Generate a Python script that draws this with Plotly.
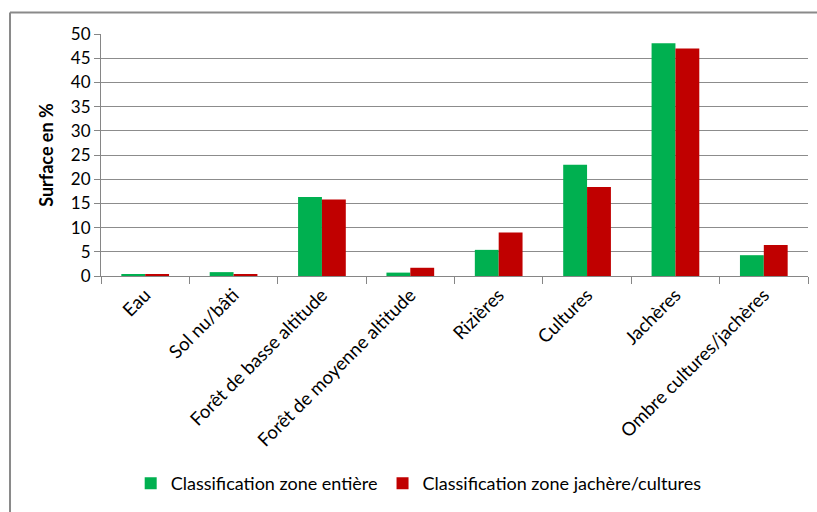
import plotly.graph_objects as go

categories = [
    "Eau", "Sol nu/bâti", "Forêt de basse altitude", "Forêt de moyenne altitude",
    "Rizières", "Cultures", "Jachères", "Ombre cultures/jachères",
]
zone_entiere = [0.4, 0.8, 16.3, 0.7, 5.4, 23.0, 48.1, 4.3]
zone_jachere = [0.4, 0.4, 15.8, 1.7, 9.0, 18.4, 47.0, 6.4]
y_ticks = [0, 5, 10, 15, 20, 25, 30, 35, 40, 45, 50]

FONT = "Lato, 'Open Sans', sans-serif"
FRAME = "#8a8a8a"

fig = go.Figure()
fig.add_trace(go.Bar(
    x=categories, y=zone_entiere, name="Classification zone entière",
    marker=dict(color="#00B050", line=dict(width=0)),
))
fig.add_trace(go.Bar(
    x=categories, y=zone_jachere, name="Classification zone jachère/cultures",
    marker=dict(color="#C00000", line=dict(width=0)),
))

fig.update_layout(
    width=817, height=512,
    margin=dict(l=101, r=9, t=34, b=231),
    paper_bgcolor="white", plot_bgcolor="white",
    barmode="group", bargap=0.46, bargroupgap=0,
    font=dict(family=FONT, color="#000000"),
    showlegend=True,
    legend=dict(
        orientation="h", x=0.042, xanchor="left", y=-0.858, yanchor="middle",
        font=dict(size=18), itemwidth=30, traceorder="normal",
    ),
    # chart frame: only its top and left edges fall inside the picture
    shapes=[
        dict(type="line", xref="paper", yref="paper",
             x0=-0.1287, x1=1.05, y0=1.089, y1=1.089,
             line=dict(color=FRAME, width=2), layer="below"),
        dict(type="line", xref="paper", yref="paper",
             x0=-0.1287, x1=-0.1287, y0=-1.0, y1=1.089,
             line=dict(color=FRAME, width=2), layer="below"),
    ],
)

fig.update_yaxes(
    range=[0, 50], tickvals=y_ticks, ticks="outside", ticklen=6, tickcolor="#868686",
    showgrid=True, gridcolor="#8c8c8c", gridwidth=1,
    showline=True, linecolor="#868686", linewidth=1,
    tickfont=dict(size=17),
    title=dict(text="<b>Surface en %</b>", font=dict(size=18), standoff=12),
    zeroline=False, automargin=False,
)
fig.update_xaxes(
    tickangle=-45, tickson="boundaries", ticks="outside", ticklen=7, tickcolor="#868686",
    showline=True, linecolor="#868686", linewidth=1,
    tickfont=dict(size=18.5), automargin=False,
)

# put the figure at the window origin and keep scrollbars out of the page
page_fix = (
    "document.body.style.margin = '0';"
    "document.body.style.overflow = 'hidden';"
    "document.documentElement.style.overflow = 'hidden';"
)
fig.write_html(
    "out.html",
    config={"displayModeBar": False},
    post_script=page_fix,
)
